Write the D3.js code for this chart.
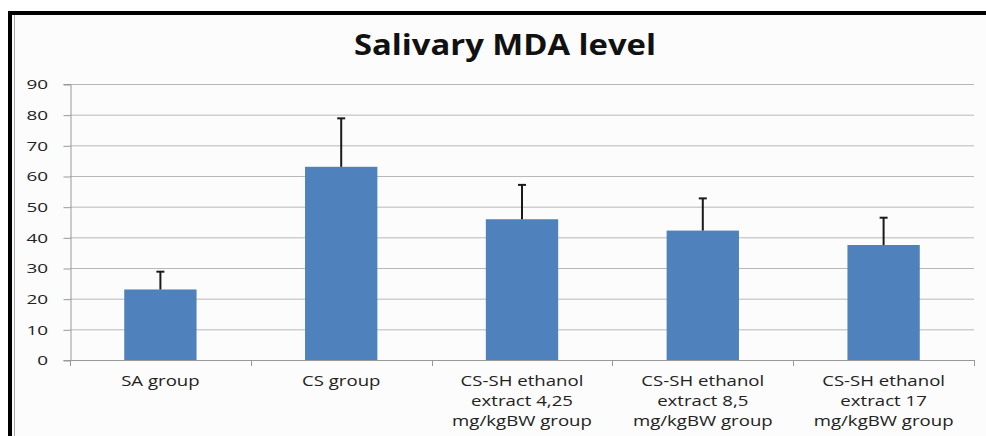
<!DOCTYPE html>
<html>
<head>
<title>Salivary MDA level</title>
<script src="https://d3js.org/d3.v7.min.js"></script>
<style>
  body { margin: 0; background: #fff; }
  text { font-family: "Open Sans", Lato, sans-serif; }
</style>
</head>
<body>
<svg class="chart"></svg>
<script>
// data
var categories = [
    ["SA group"],
    ["CS group"],
    ["CS-SH ethanol", "extract 4,25", "mg/kgBW group"],
    ["CS-SH ethanol", "extract 8,5", "mg/kgBW group"],
    ["CS-SH ethanol", "extract 17", "mg/kgBW group"]
];
var means = [23.0, 63.0, 45.9, 42.2, 37.5];
var errTops = [28.8, 78.8, 57.1, 52.7, 46.4];
var yTicks = [0, 10, 20, 30, 40, 50, 60, 70, 80, 90];

var svgWidth = 986, svgHeight = 436;
var margin = {top: 84, right: 12, bottom: 76, left: 70};
var width = 974 - margin.left;
var height = 360 - margin.top;
// the source picture is stretched sideways
var xStretch = 1.33, yStretch = 1.4;

var svg = d3.select(".chart")
    .attr("width", svgWidth)
    .attr("height", svgHeight);

// chart area background + frame
svg.append("rect")
    .attr("x", 10).attr("y", 13)
    .attr("width", svgWidth - 10).attr("height", svgHeight - 13)
    .attr("fill", "#fcfcfc");
svg.append("path")
    .attr("d", "M10," + svgHeight + "V13H" + svgWidth)
    .attr("fill", "none")
    .attr("stroke", "#000")
    .attr("stroke-width", 4);
svg.append("line")
    .attr("x1", 14.5).attr("x2", 14.5)
    .attr("y1", 15).attr("y2", svgHeight)
    .attr("stroke", "#aaa").attr("stroke-width", 1);

svg.append("text")
    .attr("x", 505).attr("y", 55)
    .attr("text-anchor", "middle")
    .attr("font-weight", "bold")
    .attr("font-size", 28)
    .attr("fill", "#111")
    .attr("textLength", 302)
    .attr("lengthAdjust", "spacingAndGlyphs")
    .text("Salivary MDA level");

var chart = svg.append("g")
    .attr("transform", "translate(" + margin.left + "," + margin.top + ")");

var xScale = d3.scaleBand()
    .domain(d3.range(categories.length))
    .range([0, width])
    .paddingInner(0.6)
    .paddingOuter(0.3);

var yScale = d3.scaleLinear().domain([0, 90]).range([height, 0]);

// gridlines
chart.append("g").selectAll("line")
    .data(yTicks.slice(1)).enter().append("line")
        .attr("x1", 0).attr("x2", width)
        .attr("y1", d => yScale(d) + 0.5).attr("y2", d => yScale(d) + 0.5)
        .attr("stroke", "#b8b8b8");

// y axis (labels drawn separately so they can be stretched)
var yAxis = d3.axisLeft(yScale).tickValues(yTicks).tickSize(7).tickFormat("");
var gy = chart.append("g").attr("transform", "translate(0.5,0)").call(yAxis);
gy.select(".domain").attr("stroke", "#999");
gy.selectAll(".tick line").attr("stroke", "#999").attr("transform", "translate(0,0.5)");

chart.append("g").selectAll("text")
    .data(yTicks).enter().append("text")
        .attr("text-anchor", "end")
        .attr("dy", "0.36em")
        .attr("font-size", 13.5)
        .attr("fill", "#222")
        .attr("transform", d => "translate(-22," + (yScale(d) + 0.5) + ") scale(" + yStretch + ",1)")
        .text(d => d);

// x axis line and category ticks
var step = xScale.step();
chart.append("line")
    .attr("x1", 0).attr("x2", width)
    .attr("y1", height + 0.5).attr("y2", height + 0.5)
    .attr("stroke", "#999");
chart.append("g").selectAll("line")
    .data(d3.range(categories.length + 1)).enter().append("line")
        .attr("x1", d => Math.round(d * step) + 0.5)
        .attr("x2", d => Math.round(d * step) + 0.5)
        .attr("y1", height).attr("y2", height + 6)
        .attr("stroke", "#999");

// bars
chart.selectAll(".bar")
    .data(means).enter().append("rect")
        .attr("class", "bar")
        .attr("x", (d, i) => xScale(i))
        .attr("y", d => yScale(d))
        .attr("width", xScale.bandwidth())
        .attr("height", d => height - yScale(d))
        .attr("fill", "#4f81bd");

// error bars (upper only)
var err = chart.selectAll(".err")
    .data(means).enter().append("g")
        .attr("class", "err")
        .attr("transform", (d, i) => "translate(" + (xScale(i) + xScale.bandwidth() / 2) + ",0)");
err.append("line")
    .attr("x1", 0).attr("x2", 0)
    .attr("y1", d => yScale(d))
    .attr("y2", (d, i) => yScale(errTops[i]))
    .attr("stroke", "#1a1a1a").attr("stroke-width", 2);
err.append("line")
    .attr("x1", -4).attr("x2", 4)
    .attr("y1", (d, i) => yScale(errTops[i]))
    .attr("y2", (d, i) => yScale(errTops[i]))
    .attr("stroke", "#1a1a1a").attr("stroke-width", 2);

// category labels
var labels = chart.selectAll(".xlabel")
    .data(categories).enter().append("text")
        .attr("class", "xlabel")
        .attr("text-anchor", "middle")
        .attr("font-size", 14)
        .attr("fill", "#222")
        .attr("transform", (d, i) => "translate(" + (xScale(i) + xScale.bandwidth() / 2) + "," + (height + 26) + ") scale(" + xStretch + ",1)");
labels.selectAll("tspan")
    .data(d => d).enter().append("tspan")
        .attr("x", 0)
        .attr("y", (d, j) => j * 20)
        .text(d => d);
</script>
</body>
</html>
